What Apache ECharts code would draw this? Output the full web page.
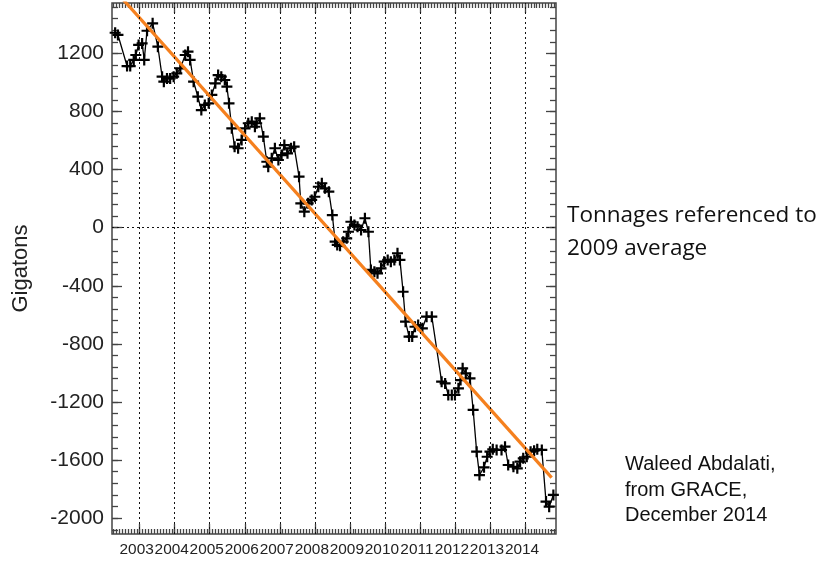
<!DOCTYPE html>
<html><head><meta charset="utf-8">
<script src="https://cdn.jsdelivr.net/npm/echarts@6.0.0/dist/echarts.min.js"></script>
<style>html,body{margin:0;padding:0;background:#fff}#c{width:822px;height:561px}</style>
</head><body><div id="c"></div>
<script>
// ---- data ----
const years = [
  2002.30,2002.38,2002.64,2002.73,2002.83,2002.89,2002.97,2003.07,2003.13,2003.21,
  2003.37,2003.52,2003.64,2003.69,2003.78,2003.87,2003.97,2004.06,2004.16,2004.30,
  2004.38,2004.44,2004.54,2004.66,2004.76,2004.86,2004.97,2005.06,2005.16,2005.24,
  2005.33,2005.43,2005.49,2005.55,2005.63,2005.71,2005.81,2005.91,2006.01,2006.10,
  2006.20,2006.29,2006.34,2006.43,2006.53,2006.63,2006.67,2006.77,2006.86,2006.96,
  2007.05,2007.13,2007.22,2007.32,2007.41,2007.55,2007.60,2007.70,2007.81,2007.91,
  2008.00,2008.10,2008.20,2008.29,2008.40,2008.50,2008.58,2008.64,2008.72,2008.81,
  2008.91,2008.96,2009.03,2009.13,2009.22,2009.32,2009.43,2009.53,2009.60,2009.70,
  2009.79,2009.89,2009.98,2010.08,2010.17,2010.27,2010.36,2010.43,2010.52,2010.59,
  2010.69,2010.78,2010.86,2010.95,2011.07,2011.19,2011.34,2011.62,2011.72,2011.81,
  2011.91,2012.00,2012.10,2012.16,2012.22,2012.31,2012.43,2012.52,2012.62,2012.70,
  2012.83,2012.92,2013.00,2013.08,2013.19,2013.33,2013.43,2013.52,2013.67,2013.78,
  2013.86,2013.95,2014.05,2014.16,2014.26,2014.35,2014.48,2014.60,2014.69,2014.81
];
const gigatons = [
  1342,1327,1113,1113,1155,1189,1258,1269,1155,1356,
  1407,1246,1040,1005,1028,1028,1040,1063,1097,1189,
  1212,1155,1005,902,810,845,856,914,994,1051,
  1040,1017,971,856,684,558,547,604,684,719,
  730,695,719,753,627,454,420,478,547,466,
  500,569,512,547,558,351,168,110,168,191,
  213,282,306,271,248,87,-96,-119,-125,-96,
  -73,-28,41,19,7,-16,65,-28,-291,-303,
  -314,-280,-234,-222,-234,-222,-176,-222,-441,-647,
  -750,-750,-682,-670,-693,-613,-613,-1060,-1072,-1152,
  -1152,-1152,-1106,-1049,-968,-1003,-1037,-1255,-1542,-1703,
  -1650,-1577,-1542,-1526,-1530,-1530,-1508,-1634,-1646,-1657,
  -1611,-1588,-1577,-1542,-1535,-1526,-1530,-1886,-1921,-1840
];
const trendYears = [2002.30, 2014.76];
const trendGigatons = [1632, -1721];
const yearTickLabels = [2003,2004,2005,2006,2007,2008,2009,2010,2011,2012,2013,2014];
const yTickLabels = [-2000,-1600,-1200,-800,-400,0,400,800,1200];
const zeroLine = [0];

const X_MIN = 2002.21, X_MAX = 2014.885, Y_MIN = -2109, Y_MAX = 1547;

// minor tick positions (axis decoration only)
const monthTicks = [];
for (let m = Math.ceil(X_MIN * 12); m / 12 <= X_MAX; m++) monthTicks.push(m / 12);
const yMinorTicks = [];
for (let v = -2080; v <= 1520; v += 80) yMinorTicks.push(v);

const FRAME = '#444';
const TXT = '#222';
const NUMFONT = '"Liberation Sans", Arial, Helvetica, sans-serif';

function xAx(pos, ticks, len, labels) {
  return {
    type: 'value', position: pos, min: X_MIN, max: X_MAX,
    axisLine: { show: false, onZero: false },
    axisTick: { show: true, inside: true, length: len, customValues: ticks,
      lineStyle: { color: FRAME, width: 1.3 } },
    axisLabel: labels ? { show: true, customValues: yearTickLabels, formatter: v => String(Math.round(v)),
      showMinLabel: true, showMaxLabel: true, hideOverlap: false, interval: 0,
      fontFamily: NUMFONT, fontSize: 15.4, color: TXT, margin: 8, padding: [0, 6, 0, 0] } : { show: false },
    splitLine: { show: false }
  };
}
function yAx(pos, ticks, len, labels) {
  const a = {
    type: 'value', position: pos, min: Y_MIN, max: Y_MAX,
    axisLine: { show: false, onZero: false },
    axisTick: { show: true, inside: true, length: len, customValues: ticks,
      lineStyle: { color: FRAME, width: 1.3 } },
    axisLabel: labels ? { show: true, customValues: yTickLabels, formatter: v => String(Math.round(v)),
      showMinLabel: true, showMaxLabel: true, hideOverlap: false,
      fontFamily: NUMFONT, fontSize: 21, color: TXT, margin: 8 } : { show: false },
    splitLine: { show: false }
  };
  if (labels) {
    a.name = 'Gigatons';
    a.nameLocation = 'middle';
    a.nameRotate = 90;
    a.nameGap = 80;
    a.nameTextStyle = { fontFamily: NUMFONT, fontSize: 22, color: TXT };
  }
  return a;
}

const chart = echarts.init(document.getElementById('c'), null, { renderer: 'canvas' });
chart.setOption({
  animation: false,
  backgroundColor: '#fff',
  grid: { left: 112, right: 266, top: 3, bottom: 27, show: true, borderColor: FRAME, borderWidth: 1.5, backgroundColor: 'transparent' },
  xAxis: [
    xAx('bottom', yearTickLabels, 10, true),
    xAx('bottom', monthTicks, 5, false),
    xAx('top', yearTickLabels, 10, false),
    xAx('top', monthTicks, 5, false)
  ],
  yAxis: [
    yAx('left', yTickLabels, 10, true),
    yAx('left', yMinorTicks, 6, false),
    yAx('right', yTickLabels, 10, false),
    yAx('right', yMinorTicks, 6, false)
  ],
  series: [
    {
      name: 'grid', type: 'line', data: [], z: 1, silent: true,
      markLine: {
        silent: true, symbol: ['none', 'none'], label: { show: false },
        lineStyle: { color: '#111', width: 1, type: [2, 3] },
        emphasis: { disabled: true },
        data: yearTickLabels.map(y => ({ xAxis: y })).concat(zeroLine.map(v => ({ yAxis: v })))
      }
    },
    {
      name: 'GRACE', type: 'line', z: 3,
      data: years.map((y, i) => [y, gigatons[i]]),
      lineStyle: { color: '#000', width: 1.3 },
      itemStyle: { color: '#000', borderWidth: 0 },
      symbol: 'path://M4,0 H6 V4 H10 V6 H6 V10 H4 V6 H0 V4 H4 Z',
      symbolSize: 11, showAllSymbol: true, clip: true
    },
    {
      name: 'trend', type: 'line', z: 4, clip: true,
      data: trendYears.map((y, i) => [y, trendGigatons[i]]),
      lineStyle: { color: '#F5801E', width: 3.2 },
      symbol: 'none'
    }
  ],
  graphic: [
    { type: 'text', left: 567, top: 204, style: { text: 'Tonnages referenced to', font: '22.5px "Open Sans", sans-serif', fill: '#111' } },
    { type: 'text', left: 567, top: 237, style: { text: '2009 average', font: '22.5px "Open Sans", sans-serif', fill: '#111' } },
    { type: 'text', left: 625, top: 454, style: { text: 'Waleed Abdalati,', font: '20px "Liberation Sans", Arial, sans-serif', fill: '#111' } },
    { type: 'text', left: 625, top: 480, style: { text: 'from GRACE,', font: '20px "Liberation Sans", Arial, sans-serif', fill: '#111' } },
    { type: 'text', left: 625, top: 505, style: { text: 'December 2014', font: '20px "Liberation Sans", Arial, sans-serif', fill: '#111' } }
  ]
});
</script>
</body></html>
